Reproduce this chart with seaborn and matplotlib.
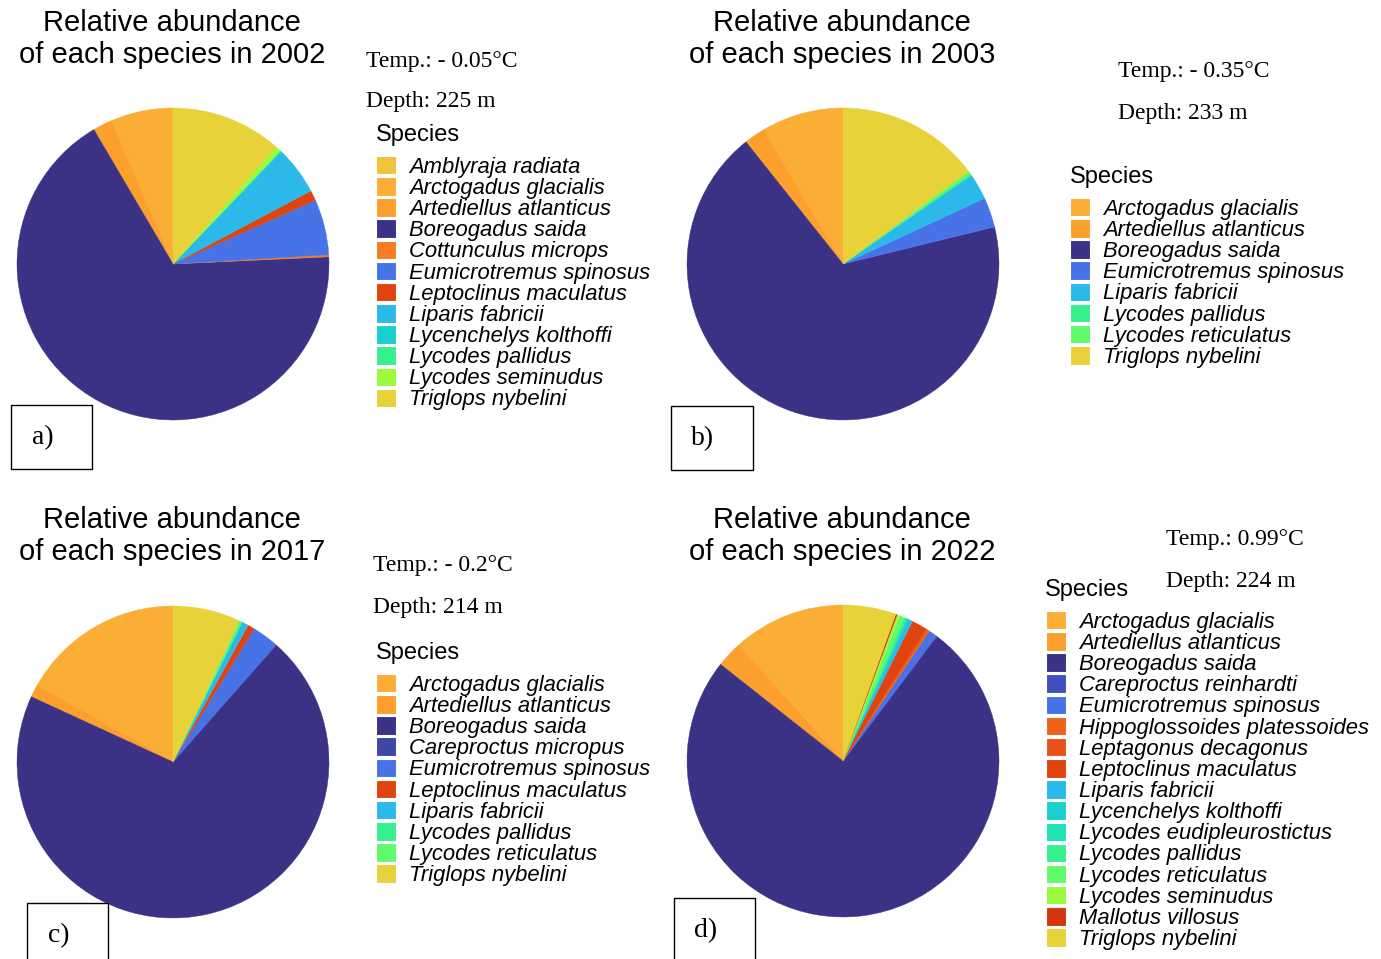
import matplotlib
matplotlib.use("Agg")
import matplotlib.pyplot as plt
from matplotlib.patches import Rectangle, Patch
from matplotlib.font_manager import FontProperties
import seaborn as sns

# ---------------- data ----------------
species_2002 = ["Amblyraja radiata", "Arctogadus glacialis", "Artediellus atlanticus",
                "Boreogadus saida", "Cottunculus microps", "Eumicrotremus spinosus",
                "Leptoclinus maculatus", "Liparis fabricii", "Lycenchelys kolthoffi",
                "Lycodes pallidus", "Lycodes seminudus", "Triglops nybelini"]
abund_2002 = [0.1, 6.4, 2.0, 67.5, 0.2, 5.8, 1.05, 5.0, 0.1, 0.1, 0.6, 11.5]

species_2003 = ["Arctogadus glacialis", "Artediellus atlanticus", "Boreogadus saida",
                "Eumicrotremus spinosus", "Liparis fabricii", "Lycodes pallidus",
                "Lycodes reticulatus", "Triglops nybelini"]
abund_2003 = [8.5, 2.2, 68.2, 3.1, 2.7, 0.2, 0.3, 14.9]

species_2017 = ["Arctogadus glacialis", "Artediellus atlanticus", "Boreogadus saida",
                "Careproctus micropus", "Eumicrotremus spinosus", "Leptoclinus maculatus",
                "Liparis fabricii", "Lycodes pallidus", "Lycodes reticulatus",
                "Triglops nybelini"]
abund_2017 = [16.8, 1.35, 70.4, 0.1, 2.75, 0.7, 0.65, 0.15, 0.2, 7.0]

species_2022 = ["Arctogadus glacialis", "Artediellus atlanticus", "Boreogadus saida",
                "Careproctus reinhardti", "Eumicrotremus spinosus",
                "Hippoglossoides platessoides", "Leptagonus decagonus",
                "Leptoclinus maculatus", "Liparis fabricii", "Lycenchelys kolthoffi",
                "Lycodes eudipleurostictus", "Lycodes pallidus", "Lycodes reticulatus",
                "Lycodes seminudus", "Mallotus villosus", "Triglops nybelini"]
abund_2022 = [11.7, 2.7, 75.5, 0.1, 0.85, 0.2, 0.2, 1.6, 0.4, 0.2, 0.1, 0.2,
              0.5, 0.3, 0.15, 5.5]

years = ["2002", "2003", "2017", "2022"]
temps = ["Temp.: - 0.05°C", "Temp.: - 0.35°C", "Temp.: - 0.2°C", "Temp.: 0.99°C"]
depths = ["Depth: 225 m", "Depth: 233 m", "Depth: 214 m", "Depth: 224 m"]
panel_labels = ["a)", "b)", "c)", "d)"]

# ---------------- styles ----------------
species_colors = {
    "Amblyraja radiata": "#EDC43A",
    "Arctogadus glacialis": "#FBAE35",
    "Artediellus atlanticus": "#FD9F2D",
    "Boreogadus saida": "#3C3285",
    "Careproctus micropus": "#3E46A8",
    "Careproctus reinhardti": "#4150BE",
    "Cottunculus microps": "#F97B22",
    "Eumicrotremus spinosus": "#4873E6",
    "Hippoglossoides platessoides": "#F0621A",
    "Leptagonus decagonus": "#E9531A",
    "Leptoclinus maculatus": "#E0440E",
    "Liparis fabricii": "#2AB9E8",
    "Lycenchelys kolthoffi": "#1ACFD0",
    "Lycodes eudipleurostictus": "#1EE3B5",
    "Lycodes pallidus": "#36F08E",
    "Lycodes reticulatus": "#5EFB6B",
    "Lycodes seminudus": "#9AFA3D",
    "Mallotus villosus": "#D3360A",
    "Triglops nybelini": "#E8D239",
}

W, H = 1381, 959
sns.set_theme(style="white")
plt.rcParams['font.family'] = ['Liberation Sans', 'DejaVu Sans']
plt.rcParams['text.color'] = 'black'

fig = plt.figure(figsize=(W / 100, H / 100), dpi=100)


def fx(x):
    return x / W


def fy(y):
    return 1 - y / H


layout = [
    dict(center=(173, 264), title=(172, 39), temp=(366, 62), depth=(366, 102),
         sp=(376, 135), leg=(376, 156), box=(11, 405, 81, 64)),
    dict(center=(843, 264), title=(842, 39), temp=(1118, 72), depth=(1118, 113),
         sp=(1070, 177), leg=(1070, 198), box=(671, 406, 82, 64)),
    dict(center=(173, 762), title=(172, 536), temp=(373, 566), depth=(373, 608),
         sp=(376, 653), leg=(376, 674), box=(27, 903, 81, 70)),
    dict(center=(843, 761), title=(842, 536), temp=(1166, 539), depth=(1166, 581),
         sp=(1045, 590), leg=(1046, 611), box=(674, 898, 81, 70)),
]

all_species = [species_2002, species_2003, species_2017, species_2022]
all_abund = [abund_2002, abund_2003, abund_2017, abund_2022]

R = 156
leg_prop = FontProperties(family='Liberation Sans', style='italic', size=15.8)

for i in range(4):
    sp_list = all_species[i]
    vals = all_abund[i]
    lay = layout[i]
    cols = [species_colors[s] for s in sp_list]
    cx, cy = lay["center"]
    ax = fig.add_axes([fx(cx - R), fy(cy + R), 2 * R / W, 2 * R / H])
    ax.pie(vals, colors=cols, startangle=90, counterclock=True, radius=1,
           wedgeprops=dict(linewidth=0.3))
    for w, c in zip(ax.patches, cols):
        w.set_edgecolor(c)
    ax.set_xlim(-1.0, 1.0)
    ax.set_ylim(-1.0, 1.0)
    ax.set_axis_off()

    # title
    tx, ty = lay["title"]
    fig.text(fx(tx), fy(ty), "Relative abundance\nof each species in " + years[i],
             ha="center", va="center", fontsize=21, linespacing=1.19,
             family="Liberation Sans", color="black")
    # temp / depth
    fig.text(fx(lay["temp"][0]), fy(lay["temp"][1]), temps[i], ha="left", va="center",
             fontsize=17, family="Liberation Serif", color="black")
    fig.text(fx(lay["depth"][0]), fy(lay["depth"][1]), depths[i], ha="left", va="center",
             fontsize=17, family="Liberation Serif", color="black")
    # legend title
    fig.text(fx(lay["sp"][0]), fy(lay["sp"][1]), "Species", ha="left", va="center",
             fontsize=17, family="Liberation Sans", color="black")
    handles = [Patch(facecolor=c, edgecolor="white", linewidth=0.8) for c in cols]
    leg = fig.legend(handles=handles, labels=sp_list, loc="upper left",
                     bbox_to_anchor=(fx(lay["leg"][0]), fy(lay["leg"][1])),
                     bbox_transform=fig.transFigure, frameon=False, borderpad=0,
                     borderaxespad=0, handlelength=0.92, handleheight=0.92,
                     handletextpad=0.58, labelspacing=-0.03, prop=leg_prop)
    for t in leg.get_texts():
        t.set_color("black")
    # panel label box
    bx, by, bw, bh = lay["box"]
    fig.patches.append(Rectangle((fx(bx), fy(by + bh)), bw / W, bh / H,
                                 transform=fig.transFigure, fill=False,
                                 edgecolor="black", linewidth=1.0))
    fig.text(fx(bx + 32), fy(by + 33), panel_labels[i], ha="center", va="center",
             fontsize=20, family="Liberation Serif", color="black")

fig.savefig("out.png", dpi=100)
